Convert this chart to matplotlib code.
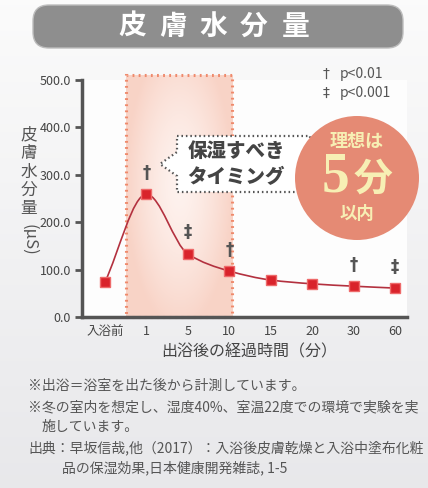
import numpy as np
import matplotlib
matplotlib.use("Agg")
import matplotlib.pyplot as plt
from matplotlib.patches import FancyBboxPatch, Rectangle, Circle, Polygon
from matplotlib.path import Path
from matplotlib.patches import PathPatch
from matplotlib.font_manager import FontProperties

plt.rcParams['font.family'] = ['Noto Sans CJK JP', 'DejaVu Sans']

# data
categories = ["入浴前", "1", "5", "10", "15", "20", "30", "60"]
moisture = [74, 259, 133, 97, 78, 70, 65, 61]
marks = ["", "†", "‡", "†", "", "", "†", "‡"]
yticks = [0, 100, 200, 300, 400, 500]
timing_span = (0.5, 3.07)   # shaded "保湿すべきタイミング" area, in category positions

footnotes = [
    ("※出浴＝浴室を出た後から計測しています。", 28, 386),
    ("※冬の室内を想定し、湿度40%、室温22度での環境で実験を実", 28, 407),
    ("施しています。", 42, 427),
    ("出典：早坂信哉,他（2017）：入浴後皮膚乾燥と入浴中塗布化粧", 28, 448),
    ("品の保湿効果,日本健康開発雑誌, 1-5", 62, 468),
]

W, H = 428, 488
fig = plt.figure(figsize=(W / 100, H / 100), dpi=100)

# background gradient
bg = fig.add_axes([0, 0, 1, 1], zorder=-10)
grad = np.linspace(0, 1, 200)[:, None]
top = np.array([0.985, 0.985, 0.985])
bot = np.array([0.91, 0.91, 0.92])
img = top[None, None, :] * (1 - grad[:, :, None]) + bot[None, None, :] * grad[:, :, None]
bg.imshow(img, aspect="auto", extent=[0, 1, 0, 1], origin="upper")
bg.set_axis_off()

# main axes
x0, x1, ytop, ybot = 82, 407, 80, 317
ax = fig.add_axes([x0 / W, 1 - ybot / H, (x1 - x0) / W, (ybot - ytop) / H])
ax.set_facecolor("#fdfdfd")
pos = np.arange(len(categories))
spacing = (395 - 105) / 7
ax.set_xlim(-(105 - x0) / spacing, 7 + (x1 - 395) / spacing)
ax.set_ylim(0, 500)

# shaded timing area with gradient and dotted border
sx0, sx1 = timing_span
sy1 = 510
yy, xx = np.mgrid[0:1:100j, 0:1:100j]
r = np.sqrt(((xx - 0.5) / 0.5) ** 2 + ((yy - 0.45) / 0.6) ** 2)
r = np.clip(r, 0, 1) ** 1.5
c_in = np.array([0.995, 0.95, 0.935])
c_out = np.array([0.975, 0.83, 0.78])
shade = c_in[None, None, :] * (1 - r[:, :, None]) + c_out[None, None, :] * r[:, :, None]
ax.imshow(shade, extent=[sx0, sx1, 0, sy1], aspect="auto", zorder=1, clip_on=False)
ax.add_patch(Rectangle((sx0, 0), sx1 - sx0, sy1, fill=False, edgecolor="#ef8a6c",
                       linewidth=2.2, linestyle=(0, (0.6, 1.4)), zorder=2, clip_on=False))

# smooth line (cubic bezier through the points, monotone tangents)
px = pos.astype(float)
py = np.array(moisture, dtype=float)
d = np.diff(py) / np.diff(px)
m = np.zeros_like(py)
m[0], m[-1] = d[0], d[-1]
for i in range(1, len(py) - 1):
    if d[i - 1] * d[i] <= 0:
        m[i] = 0
    else:
        m[i] = 2 / (1 / d[i - 1] + 1 / d[i])
verts = [(px[0], py[0])]
codes = [Path.MOVETO]
for i in range(len(py) - 1):
    h = px[i + 1] - px[i]
    verts += [(px[i] + h / 3, py[i] + m[i] * h / 3),
              (px[i + 1] - h / 3, py[i + 1] - m[i + 1] * h / 3),
              (px[i + 1], py[i + 1])]
    codes += [Path.CURVE4] * 3
ax.add_patch(PathPatch(Path(verts, codes), fill=False, edgecolor="#b3313f", linewidth=1.2, zorder=3))
ax.plot(pos, moisture, linestyle="none", marker="s", markersize=7.5,
        markerfacecolor="#d9232b", markeredgecolor="#ee6a6a", markeredgewidth=1, zorder=4)

for p, v, s in zip(pos, moisture, marks):
    if s:
        ax.annotate(s, (p, v), xytext=(0, 9), textcoords="offset points", ha="center", va="bottom",
                    fontsize=12, fontweight="bold", color="#555555", family=["DejaVu Sans"], zorder=5)

ax.set_xticks(pos)
ax.set_xticklabels(categories, fontsize=9, color="#444444")
ax.set_yticks(yticks)
ax.set_yticklabels([f"{t:.1f}" for t in yticks], fontsize=9, color="#444444")
ax.tick_params(axis="x", length=0, pad=6)
ax.tick_params(axis="y", length=5, width=2, color="#555555", pad=3)
for side in ("top", "right"):
    ax.spines[side].set_visible(False)
for side in ("left", "bottom"):
    ax.spines[side].set_color("#555555")
    ax.spines[side].set_linewidth(2.5)
ax.spines["left"].set_bounds(0, 500)

# overlay in pixel coordinates
ov = fig.add_axes([0, 0, 1, 1], zorder=10)
ov.set_xlim(0, W)
ov.set_ylim(H, 0)
ov.set_axis_off()
ov.patch.set_alpha(0)

# title banner
banner = FancyBboxPatch((33, 5), 370, 43, boxstyle="round,pad=0,rounding_size=16",
                        facecolor="#8e8e8e", edgecolor="#bdbdbd", linewidth=1)
ov.add_patch(banner)
g = np.concatenate([np.linspace(0.72, 0.58, 30), np.linspace(0.58, 0.52, 40), np.linspace(0.52, 0.6, 30)])
bimg = np.repeat(g[:, None], 3, axis=1)[:, None, :] * np.ones((1, 10, 1))
im = ov.imshow(bimg, extent=[33, 403, 48, 5], aspect="auto")
im.set_clip_path(banner)
for ch, cx in zip("皮膚水分量", [132, 173, 213, 254, 296]):
    ov.text(cx, 27, ch, ha="center", va="center", fontsize=20, fontweight="bold", color="white")

# significance legend
ov.text(326, 74, "†", ha="center", va="center", fontsize=10, color="#555555", family=["DejaVu Sans"])
ov.text(340, 74, "p<0.01", ha="left", va="center", fontsize=10, color="#555555")
ov.text(326, 93, "‡", ha="center", va="center", fontsize=10, color="#555555", family=["DejaVu Sans"])
ov.text(340, 93, "p<0.001", ha="left", va="center", fontsize=10, color="#555555")

# callout bubble
bubble = Polygon([(177, 136), (310, 136), (310, 192), (177, 192), (177, 176), (160, 164), (177, 152)],
                 closed=True, facecolor="white", edgecolor="#555555", linewidth=1.6,
                 linestyle=(0, (0.7, 1.3)))
ov.add_patch(bubble)
ov.text(236, 151, "保湿すべき", ha="center", va="center", fontsize=14, fontweight="heavy", color="#444444")
ov.text(236, 177, "タイミング", ha="center", va="center", fontsize=14, fontweight="heavy", color="#444444")

# circle badge
ov.add_patch(Circle((357, 178), 62, facecolor="#e58a74", edgecolor="none"))
cream = "#f7efb4"
ov.text(357, 141, "理想は", ha="center", va="center", fontsize=13, fontweight="bold", color=cream)
ov.text(336, 178, "5", ha="center", va="center", color=cream,
        fontproperties=FontProperties(family="Liberation Serif", weight="bold", size=40))
ov.text(373, 179, "分", ha="center", va="center", fontsize=28, fontweight="bold", color=cream)
ov.text(357, 214, "以内", ha="center", va="center", fontsize=12.5, fontweight="bold", color=cream)

# y label: stacked characters then rotated unit
for i, ch in enumerate("皮膚水分量"):
    ov.text(29, 135 + i * 18.5, ch, ha="center", va="center", fontsize=12, color="#555555")
ov.text(29, 240, "(μS)", ha="center", va="center", fontsize=12, color="#555555", rotation=-90)

# x label
ov.text(249, 352, "出浴後の経過時間（分）", ha="center", va="center", fontsize=11.5, color="#444444")

for txt, fx, fy in footnotes:
    ov.text(fx, fy, txt, ha="left", va="center", fontsize=10, color="#555555")

fig.savefig("out.png", dpi=100)
